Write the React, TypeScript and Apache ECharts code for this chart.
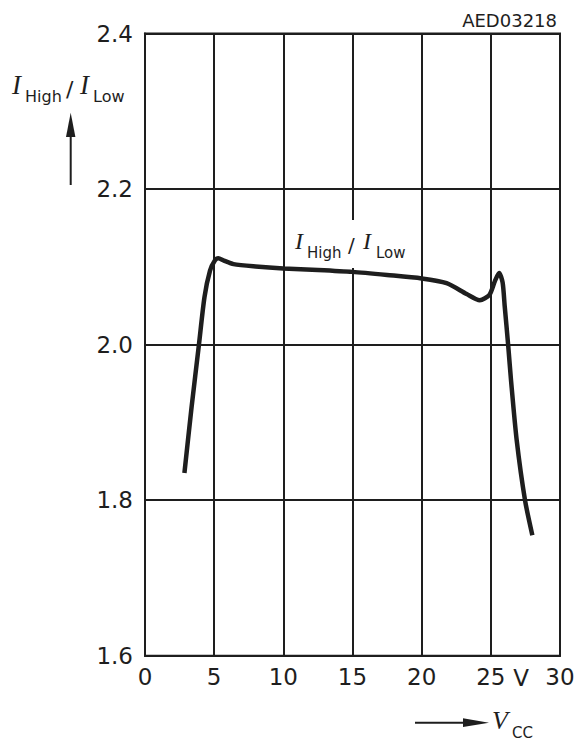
import React, { useEffect, useRef } from "react";
import * as echarts from "echarts";

const vccValues = [2.85, 3.37, 3.9, 4.3, 4.7, 5.05, 5.3, 5.7, 6.4, 8, 10, 12.5, 15, 17.5, 20, 21.8, 23.25, 24.2, 24.9, 25.3, 25.6, 25.85, 26.0, 26.25, 26.46, 26.87, 27.47, 28.0];
const ratioValues = [1.835, 1.92, 2.0, 2.061, 2.095, 2.108, 2.111, 2.108, 2.1035, 2.1005, 2.098, 2.096, 2.0935, 2.0895, 2.085, 2.079, 2.065, 2.057, 2.064, 2.082, 2.092, 2.08, 2.05, 2.0, 1.954, 1.877, 1.8, 1.755];
const xTicks = [0, 5, 10, 15, 20, 25, 30];
const yTicks = [1.6, 1.8, 2.0, 2.2, 2.4];

const INK = "#1e1e1e";
const SANS = "DejaVu Sans";
const SERIF = "Liberation Serif";

export default function App() {
  const ref = useRef<HTMLDivElement>(null);
  useEffect(() => {
    if (!ref.current) return;
    const chart = echarts.init(ref.current, undefined, { renderer: "svg" });
    const data = vccValues.map((v, i) => [v, ratioValues[i]]);
    const t = (x: number, y: number, text: string, font: string, size: number, italic = false, align = "left", z = 10) => ({
      type: "text",
      x,
      y,
      z,
      style: {
        text,
        fontFamily: font,
        fontSize: size,
        fontStyle: italic ? "italic" : "normal",
        fill: INK,
        textAlign: align,
        textVerticalAlign: "middle",
      },
    });
    chart.setOption({
      animation: false,
      backgroundColor: "#ffffff",
      grid: {
        left: 145,
        right: 26,
        top: 33.5,
        bottom: 85.3,
        show: true,
        borderColor: INK,
        borderWidth: 2,
        backgroundColor: "transparent",
      },
      xAxis: {
        type: "value",
        min: 0,
        max: 30,
        interval: 5,
        axisLine: { show: true, lineStyle: { color: INK, width: 2 } },
        axisTick: { show: false },
        splitLine: { show: true, lineStyle: { color: INK, width: 2 } },
        axisLabel: {
          margin: 10,
          fontFamily: SANS,
          fontSize: 23,
          color: INK,
          formatter: (v: number) => (xTicks.includes(v) ? String(v) : ""),
        },
      },
      yAxis: {
        type: "value",
        min: 1.6,
        max: 2.4,
        interval: 0.2,
        axisLine: { show: true, lineStyle: { color: INK, width: 2 } },
        axisTick: { show: false },
        splitLine: { show: true, lineStyle: { color: INK, width: 2 } },
        axisLabel: {
          margin: 12,
          fontFamily: SANS,
          fontSize: 23,
          color: INK,
          formatter: (v: number) => {
            const r = Math.round(v * 10) / 10;
            return yTicks.some((tk) => Math.abs(tk - r) < 1e-6) ? r.toFixed(1) : "";
          },
        },
      },
      series: [
        {
          type: "line",
          data,
          showSymbol: false,
          smooth: 0.25,
          z: 5,
          lineStyle: { color: INK, width: 4.5 },
        },
      ],
      graphic: [
        // label background inside plot
        { type: "rect", z: 1, shape: { x: 292, y: 220, width: 120, height: 48 }, style: { fill: "#ffffff" } },
        // in-plot label
        t(295, 241, "I", SERIF, 24, true),
        t(307, 252.5, "High", SANS, 15),
        t(348, 245, "/", SANS, 20),
        t(363, 241, "I", SERIF, 24, true),
        t(376, 252.5, "Low", SANS, 15),
        // y-axis title
        t(12, 85, "I", SERIF, 27, true),
        t(25, 96, "High", SANS, 16),
        t(66, 89, "/", SANS, 22),
        t(80, 85, "I", SERIF, 27, true),
        t(93, 96, "Low", SANS, 16),
        // y arrow
        { type: "line", z: 10, shape: { x1: 70.7, y1: 132, x2: 70.7, y2: 185 }, style: { stroke: INK, lineWidth: 2 } },
        { type: "polygon", z: 10, shape: { points: [[70.7, 112.7], [66, 137], [75.4, 137]] }, style: { fill: INK } },
        // x unit "V"
        t(521, 678, "V", SANS, 23, false, "center"),
        // x title
        { type: "line", z: 10, shape: { x1: 415, y1: 722.7, x2: 470, y2: 722.7 }, style: { stroke: INK, lineWidth: 2 } },
        { type: "polygon", z: 10, shape: { points: [[489, 722.7], [463, 718.3], [463, 727.1]] }, style: { fill: INK } },
        t(492, 720.5, "V", SERIF, 26, true),
        t(512, 732.5, "CC", SANS, 15),
        // code
        t(557, 20, "AED03218", SANS, 18, false, "right"),
      ],
    });
    return () => chart.dispose();
  }, []);
  return <div ref={ref} style={{ width: 586, height: 741, position: "absolute", left: 0, top: 0 }} />;
}
